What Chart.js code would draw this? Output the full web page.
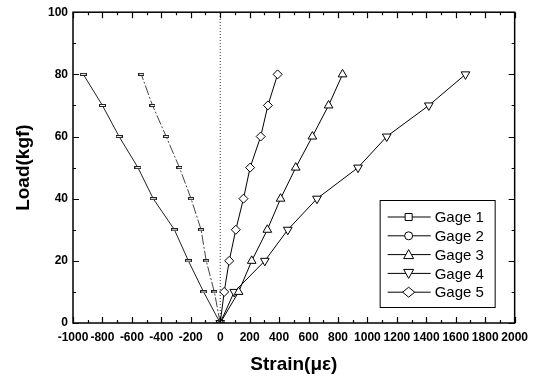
<!DOCTYPE html>
<html>
<head>
<meta charset="utf-8">
<script src="https://cdn.jsdelivr.net/npm/chart.js@4.4.1/dist/chart.umd.min.js"></script>
<style>
  html, body { margin: 0; padding: 0; background: #fff; }
  #wrap { width: 535px; height: 376px; }
</style>
</head>
<body>
<div id="wrap"><canvas id="strain-chart" width="535" height="376"></canvas></div>
<script>
// load steps (kgf) and strain readings (micro-strain) per gage
const loads = [0, 10, 20, 30, 40, 50, 60, 70, 80];
const gage1 = [0, -113, -216, -311, -455, -559, -687, -800, -930];
const gage2 = [0, -40, -95, -130, -198, -277, -367, -460, -536];
const gage3 = [0, 125, 214, 320, 410, 513, 626, 736, 831];
const gage4 = [0, 95, 303, 459, 657, 936, 1131, 1417, 1666];
const gage5 = [0, 27, 61, 106, 158, 203, 275, 324, 390];
const gageNames = ['Gage 1', 'Gage 2', 'Gage 3', 'Gage 4', 'Gage 5'];
const zeroLine = [0, 100];

const xMin = -1000, xMax = 2000, xStep = 200;
const yMin = 0, yMax = 100, yStep = 20;

function pts(xs) {
  return xs.map((x, i) => ({ x: x, y: loads[i] }));
}

// the scanned markers of gage 1 and 2 look like flat dashes
function flatMark(w, h) {
  const c = document.createElement('canvas');
  c.width = w; c.height = h;
  const g = c.getContext('2d');
  g.fillStyle = '#fff';
  g.fillRect(0, 0, w, h);
  g.strokeStyle = '#222';
  g.lineWidth = 1;
  g.strokeRect(0.5, 0.5, w - 1, h - 1);
  return c;
}

const base = {
  showLine: true,
  borderColor: '#000',
  borderWidth: 1,
  pointBackgroundColor: '#fff',
  pointBorderColor: '#000',
  pointBorderWidth: 1,
  pointRadius: 4.5,
  tension: 0
};

const datasets = [
  Object.assign({}, base, { label: gageNames[0], data: pts(gage1), pointStyle: flatMark(7, 3), borderColor: '#222' }),
  Object.assign({}, base, { label: gageNames[1], data: pts(gage2), pointStyle: flatMark(6, 3), borderColor: '#444', borderDash: [10, 2, 2, 2] }),
  Object.assign({}, base, { label: gageNames[2], data: pts(gage3), pointStyle: 'triangle', pointRadius: 5 }),
  Object.assign({}, base, { label: gageNames[3], data: pts(gage4), pointStyle: 'triangle', pointRotation: 180, pointRadius: 5 }),
  Object.assign({}, base, { label: gageNames[4], data: pts(gage5), pointStyle: 'rectRot', pointRadius: 4.5 }),
  {
    label: 'zero',
    data: zeroLine.map(y => ({ x: 0, y: y })),
    showLine: true,
    borderColor: '#333',
    borderWidth: 1,
    borderDash: [1, 2],
    pointRadius: 0
  }
];

const legendStyles = ['rect', 'circle', 'triangle', 'triangleDown', 'rectRot'];

// frame, inward ticks and the boxed legend
const framePlugin = {
  id: 'frame',
  afterDraw(chart) {
    const ctx = chart.ctx;
    const a = chart.chartArea;
    const xs = chart.scales.x, ys = chart.scales.y;
    ctx.save();
    ctx.strokeStyle = '#000';
    ctx.lineWidth = 1.5;
    ctx.strokeRect(a.left, a.top, a.right - a.left, a.bottom - a.top);
    ctx.lineWidth = 1.2;
    ctx.beginPath();
    for (let v = xMin; v <= xMax; v += xStep / 2) {
      const px = Math.round(xs.getPixelForValue(v)) + 0.5;
      const len = (v % xStep === 0) ? 6 : 3;
      ctx.moveTo(px, a.bottom); ctx.lineTo(px, a.bottom - len);
      ctx.moveTo(px, a.top); ctx.lineTo(px, a.top + len);
    }
    for (let v = yMin; v <= yMax; v += yStep / 2) {
      const py = Math.round(ys.getPixelForValue(v)) + 0.5;
      const len = (v % yStep === 0) ? 6 : 3;
      ctx.moveTo(a.left, py); ctx.lineTo(a.left + len, py);
      ctx.moveTo(a.right, py); ctx.lineTo(a.right - len, py);
    }
    ctx.stroke();

    // legend
    const bx = a.right - 135, by = a.bottom - 123, bw = 115, bh = 107;
    ctx.fillStyle = '#fff';
    ctx.fillRect(bx, by, bw, bh);
    ctx.lineWidth = 1;
    ctx.strokeRect(bx + 0.5, by + 0.5, bw, bh);
    ctx.font = '15px "Liberation Sans", Arial, sans-serif';
    ctx.textBaseline = 'middle';
    gageNames.forEach((name, i) => {
      const ly = by + 17 + i * 18.8;
      ctx.strokeStyle = '#000';
      ctx.beginPath();
      ctx.moveTo(bx + 8, ly); ctx.lineTo(bx + 51, ly);
      ctx.stroke();
      const mx = bx + 29;
      ctx.fillStyle = '#fff';
      ctx.beginPath();
      const s = legendStyles[i];
      if (s === 'rect') {
        ctx.rect(mx - 3.5, ly - 3.5, 7, 7);
      } else if (s === 'circle') {
        ctx.arc(mx, ly, 4, 0, Math.PI * 2);
      } else if (s === 'triangle') {
        ctx.moveTo(mx, ly - 5); ctx.lineTo(mx + 5, ly + 4); ctx.lineTo(mx - 5, ly + 4); ctx.closePath();
      } else if (s === 'triangleDown') {
        ctx.moveTo(mx, ly + 5); ctx.lineTo(mx + 5, ly - 4); ctx.lineTo(mx - 5, ly - 4); ctx.closePath();
      } else {
        ctx.moveTo(mx, ly - 5); ctx.lineTo(mx + 6, ly); ctx.lineTo(mx, ly + 5); ctx.lineTo(mx - 6, ly); ctx.closePath();
      }
      ctx.fill();
      ctx.stroke();
      ctx.fillStyle = '#000';
      ctx.fillText(name, bx + 55, ly + 1);
    });
    ctx.restore();
  }
};

const tickFont = { family: '"Liberation Sans", Arial, sans-serif', size: 12, weight: 'bold' };
const titleFont = { family: '"Liberation Sans", Arial, sans-serif', size: 19, weight: 'bold' };

new Chart(document.getElementById('strain-chart'), {
  type: 'scatter',
  data: { datasets: datasets },
  options: {
    responsive: false,
    animation: false,
    events: [],
    layout: { padding: { left: 0, right: 18, top: 12, bottom: 0 } },
    plugins: { legend: { display: false }, tooltip: { enabled: false } },
    scales: {
      x: {
        type: 'linear',
        min: xMin, max: xMax,
        grid: { display: false, drawTicks: false },
        border: { display: false },
        ticks: { stepSize: xStep, autoSkip: false, maxRotation: 0, color: '#000', font: tickFont, padding: 7,
          callback: v => String(v) },
        title: { display: true, text: 'Strain(με)', color: '#000', font: titleFont, padding: { top: 4, bottom: 0 } },
        afterFit(scale) { scale.height = 53; }
      },
      y: {
        type: 'linear',
        min: yMin, max: yMax,
        grid: { display: false, drawTicks: false },
        border: { display: false },
        ticks: { stepSize: yStep, color: '#000', font: tickFont, padding: 5, callback: v => String(v) },
        title: { display: true, text: 'Load(kgf)', color: '#000', font: titleFont, padding: { top: 12, bottom: 4 } },
        afterFit(scale) { scale.width = 73; }
      }
    }
  },
  plugins: [framePlugin]
});
</script>
</body>
</html>
